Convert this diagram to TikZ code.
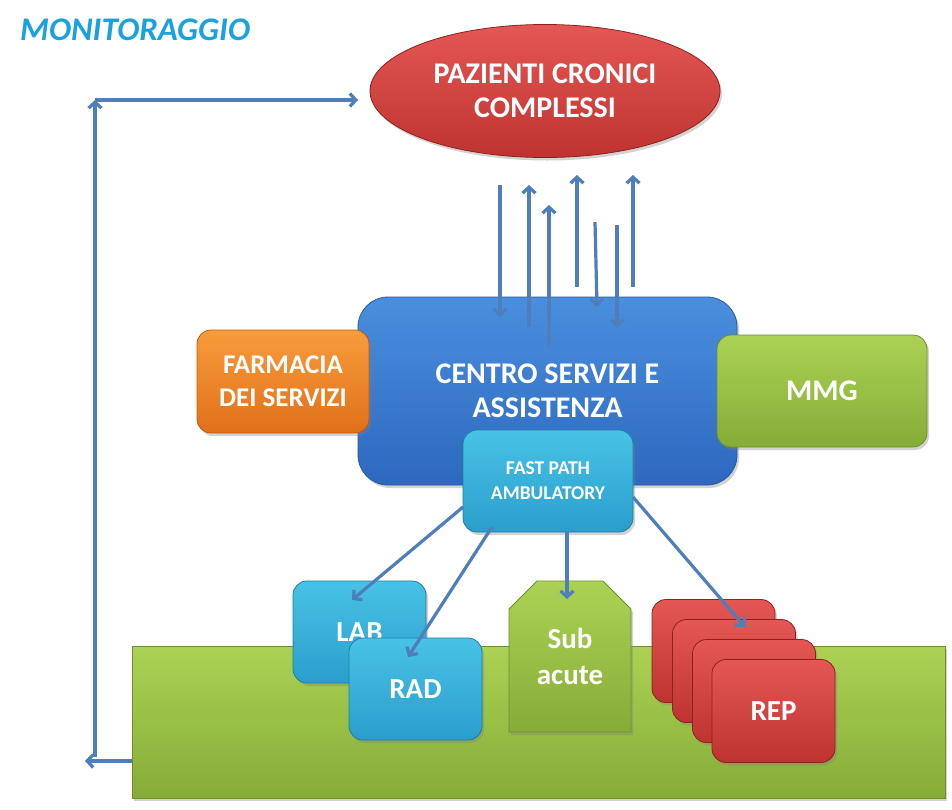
\documentclass[tikz,border=0pt]{standalone}
\usepackage{fontspec}
\setmainfont{Carlito}
\usetikzlibrary{arrows.meta,shapes.geometric,shapes.misc,shadows,calc}
\definecolor{arrowc}{HTML}{4F7FBB}
\definecolor{blueT}{HTML}{4A8FDE}\definecolor{blueB}{HTML}{2D68BE}\definecolor{blueD}{HTML}{2A5A9E}
\definecolor{orT}{HTML}{F89C3C}\definecolor{orB}{HTML}{E0701A}\definecolor{orD}{HTML}{C05A10}
\definecolor{grT}{HTML}{ABD254}\definecolor{grB}{HTML}{86AC38}\definecolor{grD}{HTML}{6E8F2C}
\definecolor{cyT}{HTML}{48C2E6}\definecolor{cyB}{HTML}{2A9ECB}\definecolor{cyD}{HTML}{1E7FA5}
\definecolor{rdT}{HTML}{E45754}\definecolor{rdB}{HTML}{BE3330}\definecolor{rdD}{HTML}{8E2020}
\definecolor{titc}{HTML}{1AA2DE}
\tikzset{
  shd/.style={drop shadow={opacity=0.35,shadow xshift=2pt,shadow yshift=-3pt}},
  boxbase/.style={shd,rounded corners=14pt,inner sep=0pt,text=white,align=center,
     font=\fontsize{29}{34}\selectfont\bfseries,line width=0.8pt},
  bluebox/.style={boxbase,rounded corners=30pt,top color=blueT,bottom color=blueB,draw=blueD},
  orbox/.style={boxbase,top color=orT,bottom color=orB,draw=orD},
  grbox/.style={boxbase,top color=grT,bottom color=grB,draw=grD},
  cybox/.style={boxbase,top color=cyT,bottom color=cyB,draw=cyD},
  rdbox/.style={boxbase,top color=rdT,bottom color=rdB,draw=rdD},
  arr/.style={draw=arrowc,line width=3.2pt,-{Straight Barb[length=6pt,width=13pt]}},
}
\begin{document}
\begin{tikzpicture}[x=1pt,y=-1pt]
\useasboundingbox (0,0) rectangle (952,809);
\fill[white] (0,0) rectangle (952,809);
% title
\node[anchor=west,inner sep=0pt,text=titc,font=\fontsize{33}{36}\selectfont\bfseries\itshape] (title) at (20,30) {MONITORAGGIO};
% ellipse
\node[ellipse,shd,minimum width=350pt,minimum height=133pt,inner sep=0pt,top color=rdT,bottom color=rdB,draw=rdD,line width=0.8pt,
  text=white,align=center,font=\fontsize{30}{34}\selectfont\bfseries] (paz) at (545,91) {PAZIENTI CRONICI\\COMPLESSI};
% bottom bar
\node[shd,rectangle,minimum width=813pt,minimum height=152pt,inner sep=0pt,top color=grT,bottom color=grB,draw=grD,line width=0.8pt] (bar) at (538.5,722) {};
% centre
\node[bluebox,minimum width=379pt,minimum height=188pt,font=\fontsize{30}{34}\selectfont\bfseries] (cen) at (547.5,391) {CENTRO SERVIZI E\\ASSISTENZA};
% arrows ellipse <-> centre
\coordinate (d1s) at (500,185); \coordinate (d1e) at (500,317);
\coordinate (u2s) at (529,327); \coordinate (u2e) at (529,185);
\coordinate (u3s) at (549,347); \coordinate (u3e) at (549,205);
\coordinate (u4s) at (577,287); \coordinate (u4e) at (577,175);
\coordinate (d5s) at (595,222); \coordinate (d5e) at (597,307);
\coordinate (d6s) at (617,225); \coordinate (d6e) at (617,328);
\coordinate (u7s) at (633,287); \coordinate (u7e) at (633,175);
\foreach \a/\b in {d1s/d1e,u2s/u2e,u3s/u3e,u4s/u4e,d5s/d5e,d6s/d6e,u7s/u7e}
  \draw[arr] (\a) -- (\b);
% side boxes
\node[orbox,minimum width=172pt,minimum height=103pt,font=\fontsize{27}{33}\selectfont\bfseries] (far) at (283,381.5) {FARMACIA\\DEI SERVIZI};
\node[grbox,minimum width=210pt,minimum height=112pt,font=\fontsize{30}{34}\selectfont\bfseries] (mmg) at (822,391) {MMG};
% fast path
\node[cybox,minimum width=170pt,minimum height=102pt,font=\fontsize{19.5}{25}\selectfont\bfseries] (fp) at (548,481) {FAST PATH\\AMBULATORY};
% bottom boxes
\node[cybox,minimum width=133pt,minimum height=102pt] (lab) at (359.5,632) {LAB};
\node[cybox,minimum width=133pt,minimum height=102pt] (rad) at (415.5,689) {RAD};
\node[shd,chamfered rectangle,chamfered rectangle corners={north west,north east},chamfered rectangle xsep=14pt,chamfered rectangle ysep=14pt,
  minimum width=122pt,minimum height=151pt,inner sep=0pt,top color=grT,bottom color=grB,draw=grD,line width=0.8pt,
  text=white,align=center,font=\fontsize{29}{36}\selectfont\bfseries] (sub) at (570,656.5) {\raisebox{-4pt}{Sub}\\\raisebox{-4pt}{acute}};
\node[rdbox,minimum width=123pt,minimum height=103pt] (rep1) at (713.5,651) {};
\node[rdbox,minimum width=123pt,minimum height=103pt] (rep2) at (734,671) {};
\node[rdbox,minimum width=123pt,minimum height=103pt] (rep3) at (754,691) {};
\node[rdbox,minimum width=123pt,minimum height=103pt] (rep4) at (773.5,711) {REP};
% fast path arrows
\coordinate (labS) at (463,507); \coordinate (labE) at (352,600);
\coordinate (radS) at (492,527); \coordinate (radE) at (408,657);
\coordinate (subS) at (567,532); \coordinate (subE) at (567,599);
\coordinate (repS) at (633,497); \coordinate (repE) at (745,627);
\draw[arr] (labS) -- (labE);
\draw[arr] (radS) -- (radE);
\draw[arr] (subS) -- (subE);
\draw[arr] (repS) -- (repE);
% feedback loop
\coordinate (fbA) at (132,761); \coordinate (fbB) at (85,761);
\coordinate (fbC) at (95,757); \coordinate (fbD) at (95,100);
\coordinate (fbE) at (358,100);
\draw[arr] (fbA) -- (fbB);
\draw[arr] (fbC) -- (fbD);
\draw[arr] (fbD) -- (fbE);
\end{tikzpicture}
\end{document}
